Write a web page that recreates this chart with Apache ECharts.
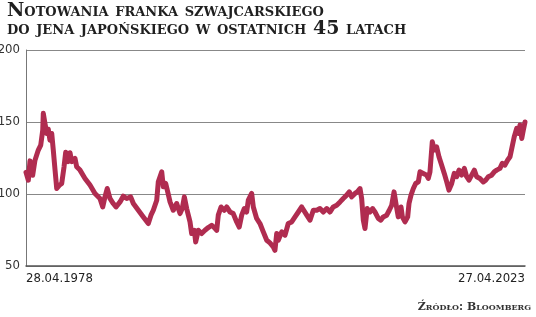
<!DOCTYPE html>
<html>
<head>
<meta charset="utf-8">
<script src="https://cdn.jsdelivr.net/npm/echarts@6/dist/echarts.min.js"></script>
<style>html,body{margin:0;padding:0;background:#fff}#c{width:536px;height:317px}</style>
</head>
<body>
<div id="c"></div>
<script>
// Years elapsed since 28.04.1978
const yearOffset = [0,0.21,0.36,0.60,0.81,1.11,1.33,1.51,1.56,1.71,1.87,2.01,2.16,2.32,2.46,2.62,2.77,3.00,3.22,3.43,3.58,3.81,3.97,4.12,4.42,4.57,4.87,5.32,5.77,6.22,6.67,6.92,7.12,7.33,7.57,7.87,8.12,8.48,8.77,9.08,9.44,9.68,10.13,10.58,11.03,11.27,11.48,11.79,11.93,12.08,12.24,12.38,12.60,12.78,12.99,13.28,13.59,13.89,14.09,14.28,14.49,14.79,14.94,15.18,15.30,15.54,15.84,16.14,16.44,16.75,16.98,17.20,17.34,17.59,17.88,18.10,18.40,18.69,19.00,19.23,19.45,19.69,19.90,20.05,20.35,20.50,20.80,21.10,21.40,21.71,22.00,22.30,22.45,22.61,22.75,23.06,23.36,23.65,23.96,24.26,24.56,24.86,25.01,25.32,25.61,25.91,26.22,26.51,26.81,27.12,27.41,27.71,28.02,28.32,28.61,28.92,29.16,29.37,29.67,29.88,30.12,30.27,30.42,30.57,30.77,31.02,31.26,31.47,31.77,31.99,32.22,32.53,32.76,32.98,33.19,33.37,33.57,33.82,33.94,34.18,34.42,34.54,34.72,34.93,35.14,35.38,35.53,35.83,36.13,36.28,36.43,36.64,36.82,37.03,37.24,37.48,37.72,37.94,38.14,38.39,38.62,38.84,39.05,39.29,39.53,39.74,39.95,40.19,40.43,40.64,40.94,41.24,41.45,41.69,41.99,42.23,42.45,42.74,42.95,43.19,43.44,43.65,43.84,44.03,44.25,44.40,44.55,44.71,44.85,45.00];
// CHF/JPY rate
const rate = [115,109.6,123,113,123.5,130.5,134,144.4,156,149,142,145,137.4,142,130.5,116.6,103.8,106,107.3,118.9,129,122.5,128.6,122.5,124.7,118.9,116.6,110.8,106.2,100.4,96.9,91,98,103.8,96.9,93.4,91,94.5,98.5,96.9,98,93.4,88.7,84.1,79.5,85.3,88.7,95.7,108.4,109.6,115.4,105,107.3,101.5,94.5,88.7,93.4,86.4,89.9,98,89.9,80.6,72.5,74.8,66.7,74.8,72.5,74.8,76.7,78.3,76.7,74.8,85.3,91,88.7,91,87.5,86.4,80.6,77,85.3,89.9,87.5,95.7,100.4,91,83,79.5,73.7,67.9,66,63.2,60.9,72.5,67.9,73.7,71.4,79.5,80.6,84.1,87.5,91,92.2,85.3,81.8,88.7,88.7,89.9,87.5,89.9,87.5,91,92.2,94.5,96.9,99.2,101.5,98,100.4,101.5,103.8,96.9,81.8,76,89.9,87.5,89.9,87.5,83,81.8,84.1,85.3,88.7,92.2,101.5,93,84.1,91,84.1,80.6,84.1,93.4,99.2,103.8,107.3,108.4,115.4,114.3,113.1,110.8,115.4,136.3,130.5,132.8,125.9,120.1,114.3,108.4,102.7,107.3,114.3,112,116.6,113.1,117.8,112,109.6,113.1,116.6,112,110.8,108.4,109.6,112,113.1,115.4,116.6,117.8,121.3,120.1,123.6,125.9,132.8,139.8,145.6,142.1,147.9,138.6,144.4,150];
const startLabel = '28.04.1978';
const endLabel = '27.04.2023';
const yTicks = [50, 100, 150, 200];
const titleLines = ['Notowania franka szwajcarskiego', 'do jena japońskiego w ostatnich 45 latach'];
const sourceText = 'Źródło: Bloomberg';

const chart = echarts.init(document.getElementById('c'), null, {renderer: 'canvas'});
const labelFont = "'DejaVu Sans Condensed', 'DejaVu Sans', sans-serif";
chart.setOption({
  animation: false,
  title: {
    left: 2, top: -3,
    text: titleLines.join('\n'),
    textStyle: {
      fontFamily: "'DejaVu Serif', serif",
      fontStyle: 'small-caps',
      fontWeight: 'bold',
      fontSize: 19,
      lineHeight: 18,
      color: '#1f1f1f'
    }
  },
  graphic: [{
    type: 'text', right: 5, top: 302,
    style: {
      text: sourceText,
      font: "small-caps bold 11px 'DejaVu Serif', serif",
      fill: '#333'
    }
  }],
  grid: {left: 26, right: 11, top: 50, bottom: 51, containLabel: false, outerBoundsMode: 'none'},
  xAxis: {
    type: 'value', min: 0, max: 45, interval: 45,
    axisLine: {show: true, onZero: false, lineStyle: {color: '#555', width: 1.5}},
    axisTick: {show: false},
    splitLine: {show: false},
    axisLabel: {
      show: true, margin: 6,
      alignMinLabel: 'left', alignMaxLabel: 'right',
      showMinLabel: true, showMaxLabel: true,
      fontFamily: labelFont, fontSize: 13, color: '#222',
      formatter: v => v === 0 ? startLabel : (v === 45 ? endLabel : '')
    }
  },
  yAxis: {
    type: 'value', min: yTicks[0], max: yTicks[yTicks.length - 1], interval: 50,
    axisLine: {show: true, lineStyle: {color: '#777', width: 1}},
    axisTick: {show: false},
    splitLine: {show: true, lineStyle: {color: '#888', width: 1}},
    axisLabel: {margin: 6, fontFamily: labelFont, fontSize: 13, color: '#333'}
  },
  series: [{
    type: 'line',
    data: yearOffset.map((t, i) => [t, rate[i]]),
    showSymbol: false,
    lineStyle: {color: '#b02c50', width: 5, join: 'round', cap: 'round'}
  }]
});
</script>
</body>
</html>
